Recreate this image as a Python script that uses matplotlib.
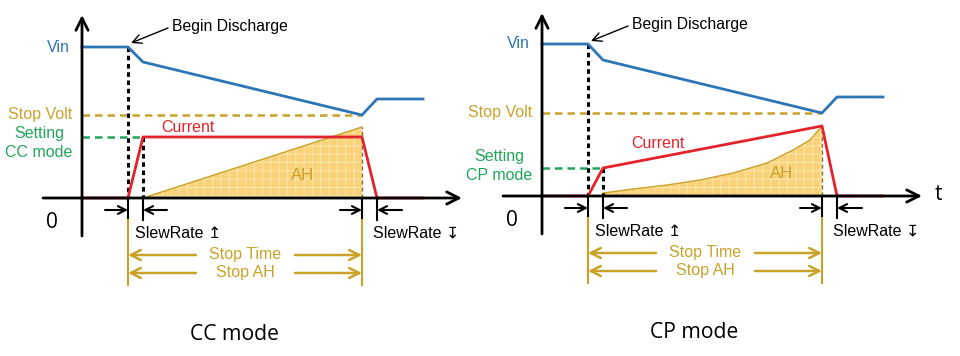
import numpy as np
import matplotlib
matplotlib.use('Agg')
from matplotlib import pyplot as plt

plt.rcParams['font.family'] = ['Liberation Sans', 'DejaVu Sans']
plt.rcParams['hatch.linewidth'] = 0.6

# time points (same for both panels): axis, begin discharge, slew end, stop, slew down end, end
t = [0, 46, 61, 280, 295, 341]

# CC mode
vin_cc = [151, 151, 136, 83, 99, 99]
cur_cc = [0, 0, 61, 61, 0, 0]
ah_t_cc = [61, 280]
ah_cc = [0, 71]
set_cc = 61

# CP mode
vin_cp = [152, 152, 136, 83, 99, 99]
cur_cp = [0, 0, 28, 70, 0, 0]
ah_t_cp = [61, 91, 125, 158, 191, 225, 251, 268, 280]
ah_cp = [3, 7, 11, 16, 23, 33, 46, 56, 70]
set_cp = 28

stop_volt = 83

BLUE = '#2e75b6'
RED = '#e3232c'
GOLD = '#c9a22a'
GREEN = '#20a55a'
FILL = '#f9d27a'

title_font = ['Open Sans', 'DejaVu Sans']
FS = 11.5


def arrow(ax, x0, y0, x1, y1, color='black', lw=1.5, ms=14):
    ax.annotate('', xy=(x1, y1), xytext=(x0, y0),
                arrowprops=dict(arrowstyle='->', color=color, lw=lw,
                                mutation_scale=ms, shrinkA=0, shrinkB=0))


def panel(ax, vin, cur, ah_t, ah, setting, mode, show_t):
    ax.axis('off')
    # area
    ax.fill_between(ah_t, ah, 0, facecolor=FILL, edgecolor='#fde9b8', hatch='++', lw=0)
    ax.plot(ah_t, ah, color=GOLD, lw=1)
    ax.plot([ah_t[0], ah_t[-1]], [0, 0], color='#a88a2a', lw=1.5)
    ax.plot([ah_t[-1], ah_t[-1]], [0, ah[-1]], color='#8a7430', lw=1, ls=(0, (3, 2)))

    # axes
    arrow(ax, -39, 0, 380, 0, lw=2, ms=22)
    arrow(ax, 0, -38, 0, 183, lw=2, ms=22)

    # reference levels
    ax.plot([0, t[3]], [stop_volt, stop_volt], color=GOLD, lw=1.8, ls=(0, (3, 2)))
    ax.plot([0, t[2]], [setting, setting], color=GREEN, lw=1.8, ls=(0, (3, 2)))
    ax.plot([t[1], t[1]], [vin[1], 0], color='black', lw=2.2, ls=(0, (1.5, 1.2)))
    ax.plot([t[2], t[2]], [cur[2], 0], color='black', lw=2.2, ls=(0, (1.5, 1.2)))

    # signals
    ax.plot(t, cur, color=RED, lw=2)
    ax.plot(t, vin, color=BLUE, lw=2)

    # ticks under the axis
    for x in t[1:5]:
        ax.plot([x, x], [0, -22], color='black', lw=1.5)
    for x in (t[1], t[3]):
        ax.plot([x, x], [-22, -87], color=GOLD, lw=1.5)

    arrow(ax, 23, -12, t[1], -12)
    arrow(ax, 85, -12, t[2], -12)
    arrow(ax, 258, -12, t[3], -12)
    arrow(ax, 320, -12, t[4], -12)

    for y, txt in ((-57, 'Stop Time'), (-75, 'Stop AH')):
        arrow(ax, 114, y, t[1], y, color=GOLD, lw=1.8, ms=18)
        arrow(ax, 213, y, t[3], y, color=GOLD, lw=1.8, ms=18)
        ax.text(163, y, txt, color=GOLD, fontsize=FS, ha='center', va='center')

    # labels
    ax.text(-12, vin[0], 'Vin', color=BLUE, fontsize=FS, ha='right', va='center')
    ax.text(-10, stop_volt, 'Stop Volt', color=GOLD, fontsize=FS, ha='right', va='center')
    ax.text(-43, setting - 6 if mode == 'CC' else setting + 2, 'Setting\n%s mode' % mode,
            color=GREEN, fontsize=FS, ha='center', va='center', linespacing=1.35)
    ax.text(-30, -25, '0', fontsize=15, ha='center', va='center', family=title_font)
    if mode == 'CC':
        ax.text(106, 71, 'Current', color=RED, fontsize=FS, ha='center', va='center')
    else:
        ax.text(116, 53, 'Current', color=RED, fontsize=FS, ha='center', va='center')
    ax.text(221 if mode == 'CC' else 240, 23, 'AH', color=GOLD, fontsize=12,
            ha='center', va='center')
    ax.text(90, 171, 'Begin Discharge', fontsize=11.3, ha='left', va='center')
    arrow(ax, 86, 170, 49, 155, lw=1, ms=16)
    ax.text(53, -35, 'SlewRate \u21a5', fontsize=FS, ha='left', va='center')
    ax.text(291, -35, 'SlewRate \u21a7', fontsize=FS, ha='left', va='center')
    ax.text(152, -137, '%s mode' % mode, fontsize=15.2, ha='center', va='center',
            family=title_font)
    if show_t:
        ax.text(396, 1, 't', fontsize=15, ha='center', va='center', family=title_font)


fig = plt.figure(figsize=(9.6, 3.56), dpi=100)
ax1 = fig.add_axes([0, 0, 0.5, 1])
ax1.set_xlim(-82, 398)
ax1.set_ylim(-158, 198)
ax2 = fig.add_axes([0.5, 0, 0.5, 1])
ax2.set_xlim(-62, 418)
ax2.set_ylim(-160, 196)

panel(ax1, vin_cc, cur_cc, ah_t_cc, ah_cc, set_cc, 'CC', False)
panel(ax2, vin_cp, cur_cp, ah_t_cp, ah_cp, set_cp, 'CP', True)

fig.savefig('out.png', dpi=100)
